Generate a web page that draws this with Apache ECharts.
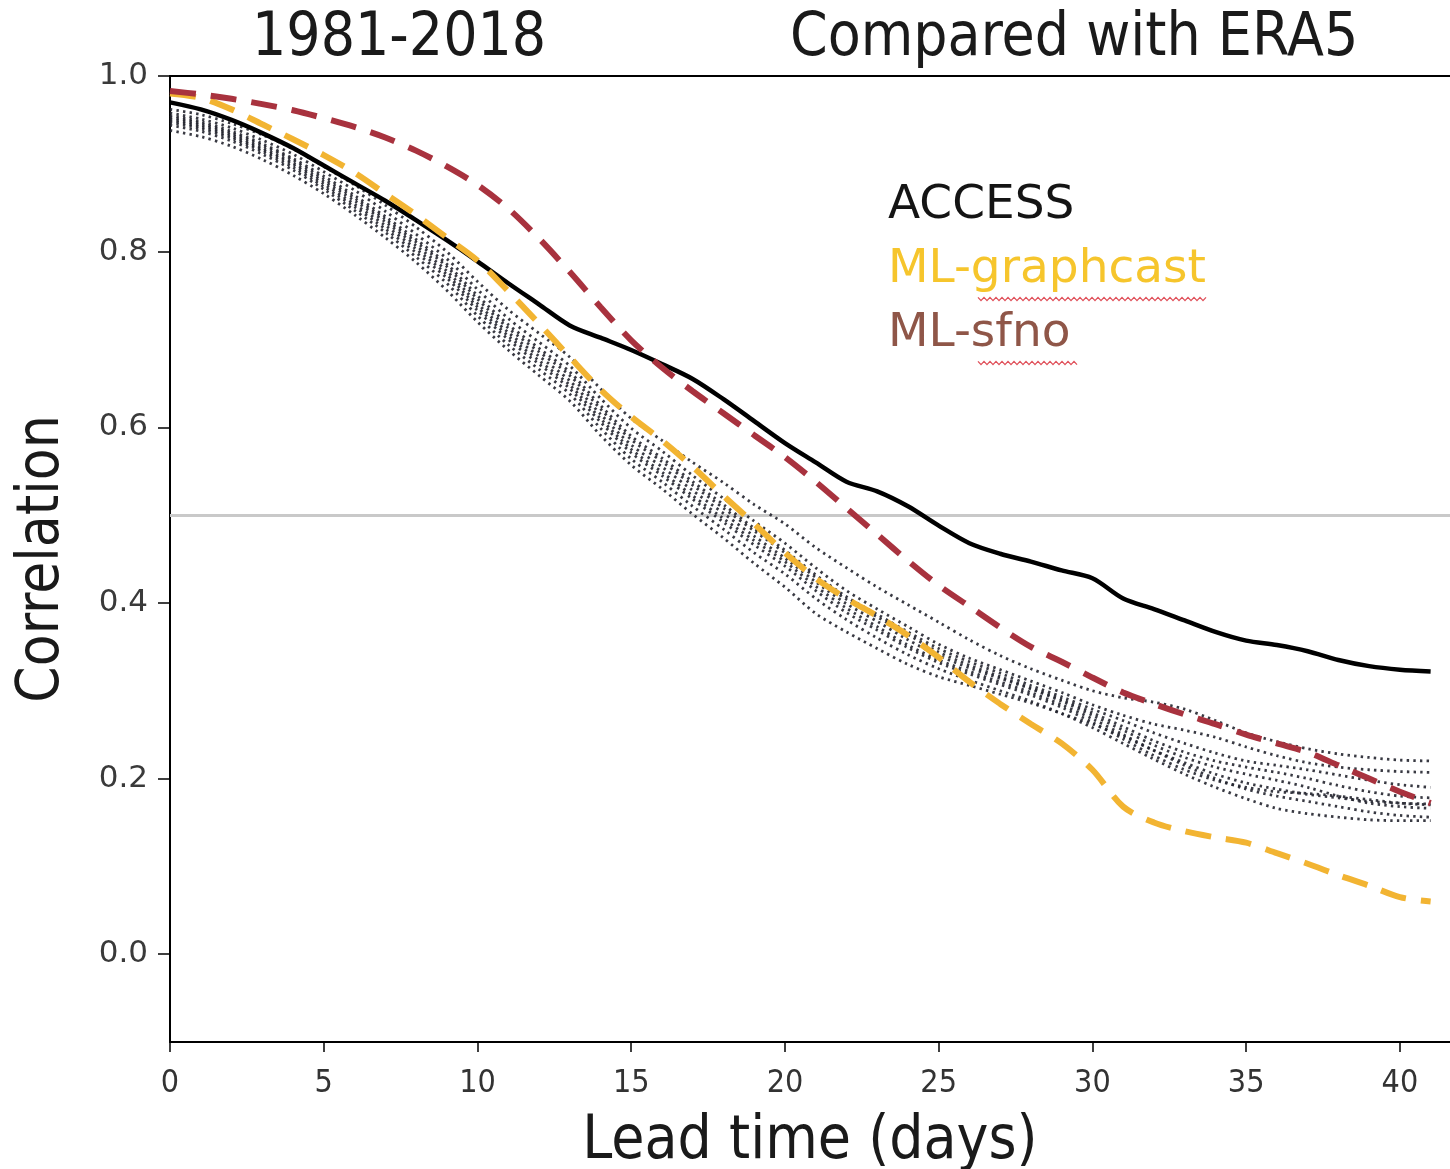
<!DOCTYPE html>
<html>
<head>
<meta charset="utf-8">
<script src="https://cdn.jsdelivr.net/npm/echarts@6/dist/echarts.min.js"></script>
<style>
html,body{margin:0;padding:0;background:#fff;}
#chart{width:1450px;height:1169px;}
</style>
</head>
<body>
<div id="chart"></div>
<script>
// Lead time (days)
const leadDays = [0,1,2,3,4,5,6,7,8,9,10,11,12,13,14,15,16,17,18,19,20,21,22,23,24,25,26,27,28,29,30,31,32,33,34,35,36,37,38,39,40,41];
const xTicks = [0,5,10,15,20,25,30,35,40];
const yTicks = [0,0.2,0.4,0.6,0.8,1.0];

const access = [0.970,0.962,0.950,0.935,0.918,0.898,0.878,0.858,0.836,0.813,0.789,0.764,0.740,0.716,0.702,0.688,0.672,0.655,0.632,0.607,0.582,0.560,0.538,0.527,0.510,0.488,0.468,0.456,0.447,0.437,0.428,0.405,0.393,0.380,0.367,0.357,0.352,0.345,0.335,0.328,0.324,0.322];
const graphcast = [0.980,0.975,0.962,0.945,0.928,0.910,0.890,0.866,0.842,0.816,0.790,0.755,0.718,0.680,0.643,0.612,0.585,0.555,0.522,0.490,0.457,0.428,0.405,0.385,0.363,0.338,0.310,0.285,0.262,0.240,0.210,0.168,0.150,0.140,0.133,0.127,0.115,0.103,0.090,0.078,0.065,0.060];
const sfno = [0.983,0.979,0.974,0.968,0.961,0.952,0.942,0.930,0.915,0.897,0.876,0.849,0.815,0.777,0.737,0.699,0.668,0.641,0.616,0.591,0.566,0.538,0.508,0.478,0.448,0.420,0.396,0.372,0.350,0.333,0.315,0.298,0.285,0.273,0.262,0.250,0.240,0.230,0.215,0.200,0.185,0.172];

// dotted ensemble members
const member1 = [0.962,0.956,0.946,0.933,0.917,0.897,0.876,0.853,0.828,0.800,0.766,0.734,0.707,0.680,0.644,0.610,0.585,0.560,0.537,0.512,0.490,0.463,0.440,0.418,0.398,0.378,0.358,0.340,0.325,0.312,0.300,0.292,0.287,0.279,0.266,0.252,0.242,0.234,0.228,0.224,0.221,0.220];
const member2 = [0.958,0.951,0.941,0.927,0.911,0.891,0.870,0.846,0.820,0.792,0.757,0.724,0.697,0.670,0.633,0.599,0.573,0.545,0.519,0.493,0.468,0.440,0.414,0.393,0.373,0.353,0.337,0.324,0.311,0.298,0.284,0.272,0.262,0.255,0.247,0.236,0.226,0.218,0.213,0.210,0.208,0.207];
const member3 = [0.955,0.948,0.937,0.923,0.906,0.886,0.864,0.840,0.814,0.786,0.750,0.717,0.690,0.663,0.625,0.590,0.565,0.538,0.512,0.485,0.460,0.432,0.407,0.387,0.367,0.348,0.333,0.320,0.306,0.293,0.279,0.266,0.252,0.240,0.229,0.220,0.215,0.210,0.204,0.198,0.193,0.190];
const member4 = [0.953,0.946,0.935,0.921,0.904,0.883,0.861,0.837,0.811,0.783,0.746,0.713,0.686,0.659,0.621,0.586,0.561,0.534,0.508,0.482,0.457,0.429,0.404,0.384,0.364,0.344,0.329,0.316,0.303,0.290,0.275,0.259,0.243,0.230,0.220,0.213,0.207,0.200,0.192,0.185,0.180,0.178];
const member5 = [0.951,0.944,0.933,0.918,0.901,0.880,0.858,0.834,0.807,0.778,0.741,0.708,0.681,0.653,0.615,0.580,0.555,0.528,0.502,0.476,0.451,0.424,0.399,0.379,0.358,0.340,0.326,0.314,0.302,0.288,0.272,0.255,0.238,0.224,0.213,0.205,0.198,0.190,0.180,0.172,0.168,0.166];
const member6 = [0.949,0.942,0.931,0.916,0.899,0.877,0.854,0.830,0.803,0.774,0.737,0.704,0.676,0.648,0.610,0.575,0.549,0.522,0.496,0.471,0.447,0.419,0.394,0.373,0.352,0.335,0.322,0.310,0.298,0.284,0.268,0.250,0.232,0.215,0.200,0.188,0.180,0.174,0.168,0.162,0.158,0.156];
const member7 = [0.947,0.940,0.929,0.914,0.896,0.874,0.851,0.826,0.799,0.770,0.733,0.700,0.672,0.644,0.606,0.571,0.545,0.518,0.492,0.466,0.442,0.414,0.389,0.369,0.349,0.332,0.319,0.307,0.295,0.281,0.264,0.245,0.226,0.210,0.198,0.190,0.185,0.183,0.180,0.176,0.172,0.170];
const member8 = [0.944,0.937,0.926,0.911,0.893,0.871,0.847,0.822,0.794,0.764,0.727,0.694,0.666,0.638,0.599,0.564,0.538,0.510,0.484,0.457,0.433,0.405,0.381,0.360,0.341,0.325,0.312,0.300,0.288,0.274,0.258,0.240,0.222,0.205,0.190,0.177,0.166,0.160,0.156,0.153,0.152,0.152];
const member9 = [0.938,0.931,0.920,0.905,0.887,0.866,0.842,0.816,0.788,0.756,0.720,0.688,0.659,0.630,0.591,0.557,0.530,0.501,0.474,0.445,0.418,0.388,0.367,0.348,0.330,0.316,0.306,0.296,0.286,0.274,0.262,0.248,0.232,0.218,0.205,0.195,0.188,0.182,0.178,0.174,0.172,0.171];
const members = [member1,member2,member3,member4,member5,member6,member7,member8,member9];
const refLine = 0.5;

const FONT_C = "'DejaVu Sans Condensed','Liberation Sans Narrow','DejaVu Sans',sans-serif";
const FONT_Y = "'DejaVu Sans',sans-serif";
const FONT_L = "'DejaVu Sans','Noto Sans',sans-serif";

const pair = arr => leadDays.map((d,i)=>[d,arr[i]]);

const series = [];
members.forEach((m,i)=>{
  series.push({
    type:'line', data: pair(m), smooth:0.3, symbol:'none', silent:true, z:2,
    lineStyle:{color:'#23252f', width:2.8, type:[2.4,4.2], opacity:0.9},
    markLine: i===0 ? {silent:true, symbol:'none', label:{show:false}, z:1,
      lineStyle:{color:'#c9c9c9', width:3, type:'solid'}, data:[{yAxis:refLine}]} : undefined
  });
});
series.push({type:'line', name:'ACCESS', data:pair(access), smooth:0.3, symbol:'none', z:3,
  lineStyle:{color:'#000000', width:4.5, type:'solid'}});
series.push({type:'line', name:'ML-graphcast', data:pair(graphcast), smooth:0.3, symbol:'none', z:4,
  lineStyle:{color:'#f2b432', width:6, type:[26,15]}});
series.push({type:'line', name:'ML-sfno', data:pair(sfno), smooth:0.3, symbol:'none', z:5,
  lineStyle:{color:'#a8323e', width:6, type:[26,15]}});

function zigzag(x0,x1,y){
  const pts=[]; let up=true;
  for(let x=x0;x<=x1;x+=3){ pts.push([x, y + (up?-1.6:1.6)]); up=!up; }
  return pts;
}

const chart = echarts.init(document.getElementById('chart'), null, {renderer:'canvas'});
chart.setOption({
  animation:false,
  backgroundColor:'#ffffff',
  grid:{left:170, top:76, right:0, height:966, show:false, outerBoundsMode:'none', containLabel:false},
  xAxis:[{type:'value', min:0, max:41.63, position:'bottom',
    name:'Lead time (days)', nameLocation:'middle', nameGap:70,
    nameTextStyle:{fontFamily:FONT_C, fontSize:60, color:'#1a1a1a'},
    axisLine:{show:true, onZero:false, lineStyle:{color:'#000', width:2}},
    axisTick:{show:true, length:10, lineStyle:{color:'#000', width:1.5}, customValues:xTicks},
    axisLabel:{fontFamily:FONT_C, fontSize:32, color:'#333', margin:26, customValues:xTicks, formatter:v=>String(v)},
    splitLine:{show:false}},
   {type:'value', min:0, max:41.63, position:'top',
    axisLine:{show:true, onZero:false, lineStyle:{color:'#000', width:2}},
    axisTick:{show:false}, axisLabel:{show:false}, splitLine:{show:false}}],
  yAxis:{type:'value', min:-0.1, max:1.0,
    name:'Correlation', nameLocation:'middle', nameGap:98, nameRotate:90,
    nameTextStyle:{fontFamily:FONT_C, fontSize:58, color:'#1a1a1a'},
    axisLine:{show:true, onZero:false, lineStyle:{color:'#000', width:2}},
    axisTick:{show:true, length:12, lineStyle:{color:'#000', width:1.5}, customValues:yTicks},
    axisLabel:{fontFamily:FONT_Y, fontSize:31, color:'#3a3a3a', margin:22, customValues:yTicks, formatter:v=>v.toFixed(1)},
    splitLine:{show:false}},
  series:series,
  graphic:[
    {type:'text', left:252, top:9, style:{text:'1981-2018', font:"60px "+FONT_C, fill:'#1a1a1a'}},
    {type:'text', left:790, top:9, style:{text:'Compared with ERA5', font:"60px "+FONT_C, fill:'#1a1a1a'}},
    {type:'text', left:888, top:182, style:{text:'ACCESS', font:"47px "+FONT_L, fill:'#141414'}},
    {type:'text', left:888, top:246, style:{text:'ML-graphcast', font:"47px "+FONT_L, fill:'#f6c52c'}},
    {type:'text', left:888, top:310, style:{text:'ML-sfno', font:"47px "+FONT_L, fill:'#8f5648'}},
    {type:'polyline', shape:{points:zigzag(978,1208,299)}, style:{stroke:'#e0505a', lineWidth:1.3, fill:null}},
    {type:'polyline', shape:{points:zigzag(978,1078,363)}, style:{stroke:'#e0505a', lineWidth:1.3, fill:null}}
  ]
});
</script>
</body>
</html>
